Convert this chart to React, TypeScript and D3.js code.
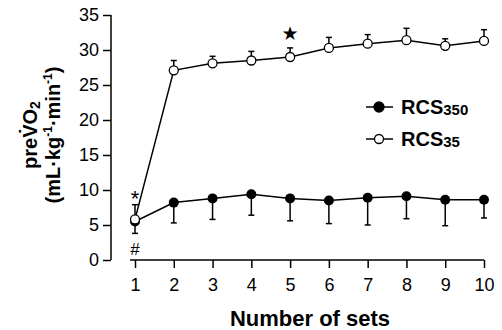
import { useEffect, useRef } from 'react';
import * as d3 from 'd3';

const sets = [1, 2, 3, 4, 5, 6, 7, 8, 9, 10];
const rcs350 = [5.5, 8.2, 8.8, 9.4, 8.8, 8.5, 8.9, 9.1, 8.6, 8.6];
const rcs350Err = [1.7, 2.9, 3.0, 3.0, 3.2, 3.3, 3.9, 3.2, 3.7, 2.6];
const rcs35 = [5.8, 27.1, 28.1, 28.5, 29.0, 30.3, 30.9, 31.4, 30.6, 31.3];
const rcs35Err = [2.1, 1.4, 1.0, 1.3, 1.3, 1.5, 1.3, 1.7, 1.0, 1.6];
const yTicks = [0, 5, 10, 15, 20, 25, 30, 35];

const FONT = 'Liberation Sans, Arial, sans-serif';

export default function App() {
  const svgRef = useRef<SVGSVGElement | null>(null);

  useEffect(() => {
    if (!svgRef.current) return;
    const svg = d3.select(svgRef.current);
    svg.selectAll('*').remove();

    const x = d3.scaleLinear().domain([1, 10]).range([135, 484]);
    const y = d3.scaleLinear().domain([0, 35]).range([260, 15]);

    // Y axis (detached)
    const yAxis = svg.append('g').attr('transform', 'translate(111,0)')
      .call(d3.axisLeft(y).tickValues(yTicks).tickSize(8).tickPadding(4));
    yAxis.select('.domain').attr('stroke', '#000').attr('stroke-width', 1.5)
      .attr('d', `M0,${y(35)}V${y(0)}`);
    yAxis.selectAll('.tick line').attr('stroke', '#000').attr('stroke-width', 1.5);
    yAxis.selectAll('.tick text').attr('font-family', FONT).attr('font-size', 18).attr('fill', '#000');

    // X axis
    const xAxis = svg.append('g').attr('transform', 'translate(0,260)')
      .call(d3.axisBottom(x).tickValues(sets).tickFormat(d3.format('d')).tickSize(8).tickPadding(10));
    xAxis.select('.domain').attr('stroke', '#000').attr('stroke-width', 1.5)
      .attr('d', `M${x(1) - 5},0H${x(10)}`);
    xAxis.selectAll('.tick line').attr('stroke', '#000').attr('stroke-width', 1.5);
    xAxis.selectAll('.tick text').attr('font-family', FONT).attr('font-size', 18).attr('fill', '#000');

    // Axis titles
    svg.append('text').attr('x', 310).attr('y', 326).attr('text-anchor', 'middle')
      .attr('font-family', FONT).attr('font-size', 22).attr('font-weight', 'bold').text('Number of sets');

    const yt = svg.append('g').attr('transform', 'translate(0,135) rotate(-90)')
      .attr('font-family', FONT).attr('font-weight', 'bold').attr('font-size', 20).attr('text-anchor', 'middle');
    const l1 = yt.append('text').attr('x', 0).attr('y', 37);
    l1.append('tspan').text('preV\u0307O');
    l1.append('tspan').attr('font-size', 14).attr('dy', 3).text('2');
    const l2 = yt.append('text').attr('x', 0).attr('y', 60);
    l2.append('tspan').text('(mL\u00b7kg');
    l2.append('tspan').attr('font-size', 12).attr('dy', -8).text('-1');
    l2.append('tspan').attr('dy', 8).text('\u00b7min');
    l2.append('tspan').attr('font-size', 12).attr('dy', -8).text('-1');
    l2.append('tspan').attr('dy', 8).text(')');

    const line = d3.line<number>().x((_, i) => x(sets[i])).y(d => y(d));

    // RCS350 error bars (down)
    rcs350.forEach((v, i) => {
      const lo = y(v - rcs350Err[i]);
      svg.append('line').attr('x1', x(sets[i])).attr('x2', x(sets[i])).attr('y1', y(v)).attr('y2', lo)
        .attr('stroke', '#000').attr('stroke-width', 1.5);
      svg.append('line').attr('x1', x(sets[i]) - 3).attr('x2', x(sets[i]) + 3).attr('y1', lo).attr('y2', lo)
        .attr('stroke', '#000').attr('stroke-width', 1.5);
    });
    // RCS35 error bars (up)
    rcs35.forEach((v, i) => {
      const hi = y(v + rcs35Err[i]);
      svg.append('line').attr('x1', x(sets[i])).attr('x2', x(sets[i])).attr('y1', y(v)).attr('y2', hi)
        .attr('stroke', '#000').attr('stroke-width', 1.5);
      svg.append('line').attr('x1', x(sets[i]) - 3).attr('x2', x(sets[i]) + 3).attr('y1', hi).attr('y2', hi)
        .attr('stroke', '#000').attr('stroke-width', 1.5);
    });

    svg.append('path').attr('d', line(rcs350)).attr('fill', 'none').attr('stroke', '#000').attr('stroke-width', 1.5);
    svg.append('path').attr('d', line(rcs35)).attr('fill', 'none').attr('stroke', '#000').attr('stroke-width', 1.5);

    svg.selectAll('.m350').data(rcs350).join('circle').attr('class', 'm350')
      .attr('cx', (_, i) => x(sets[i])).attr('cy', d => y(d)).attr('r', 5)
      .attr('fill', '#000');
    svg.selectAll('.m35').data(rcs35).join('circle').attr('class', 'm35')
      .attr('cx', (_, i) => x(sets[i])).attr('cy', d => y(d)).attr('r', 4.5)
      .attr('fill', '#fff').attr('stroke', '#000').attr('stroke-width', 1.3);

    // Annotations
    svg.append('text').attr('x', x(1)).attr('y', 206).attr('text-anchor', 'middle')
      .attr('font-family', FONT).attr('font-size', 22).text('*');
    svg.append('text').attr('x', x(1)).attr('y', 255).attr('text-anchor', 'middle')
      .attr('font-family', FONT).attr('font-size', 17).text('#');
    svg.append('text').attr('x', x(5)).attr('y', 40).attr('text-anchor', 'middle')
      .attr('font-family', 'DejaVu Sans, sans-serif').attr('font-size', 19).text('\u2605');

    // Legend
    const legend = [
      { name: 'RCS', sub: '350', filled: true, yy: 107 },
      { name: 'RCS', sub: '35', filled: false, yy: 139 },
    ];
    legend.forEach(l => {
      svg.append('line').attr('x1', 366).attr('x2', 393).attr('y1', l.yy).attr('y2', l.yy)
        .attr('stroke', '#000').attr('stroke-width', 1.5);
      svg.append('circle').attr('cx', 379).attr('cy', l.yy).attr('r', l.filled ? 5 : 4.5)
        .attr('fill', l.filled ? '#000' : '#fff').attr('stroke', '#000').attr('stroke-width', 1.3);
      const t = svg.append('text').attr('x', 401).attr('y', l.yy + 7)
        .attr('font-family', FONT).attr('font-weight', 'bold').attr('font-size', 20);
      t.append('tspan').text(l.name);
      t.append('tspan').attr('font-size', 15).attr('dy', 1).text(l.sub);
    });
  }, []);

  return (
    <div style={{ position: 'absolute', left: 0, top: 0 }}>
      <svg ref={svgRef} width={502} height={330} style={{ display: 'block', background: '#fff' }} />
    </div>
  );
}
